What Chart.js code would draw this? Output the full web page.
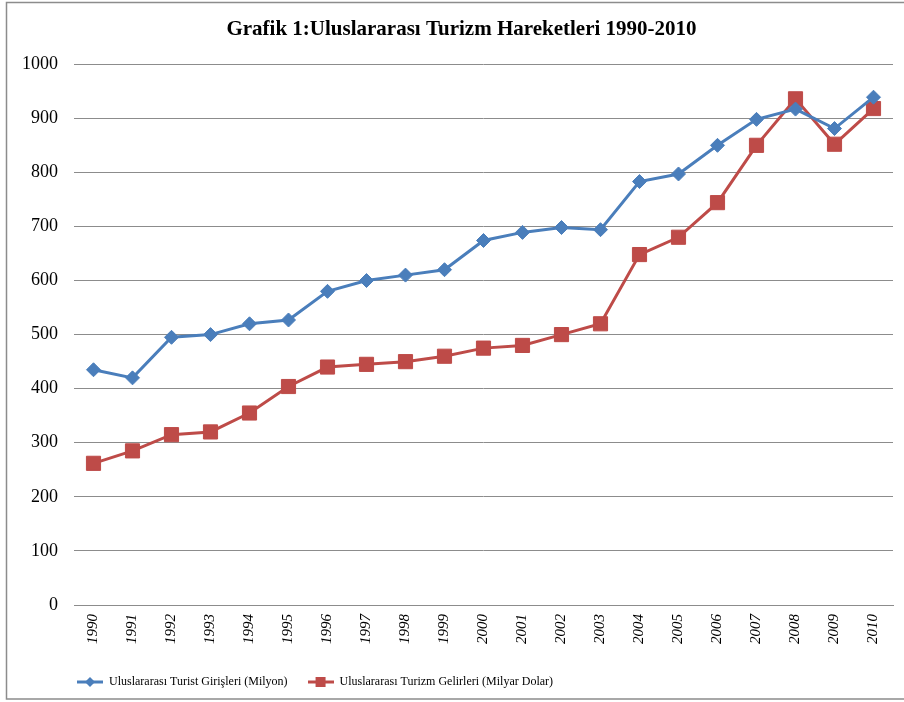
<!DOCTYPE html>
<html>
<head>
<meta charset="utf-8">
<script src="https://cdn.jsdelivr.net/npm/chart.js@4/dist/chart.umd.min.js"></script>
<style>
  html, body { margin: 0; padding: 0; background: #ffffff; }
  #wrap { position: relative; width: 904px; height: 702px; }
</style>
</head>
<body>
<div id="wrap"><canvas id="c" width="904" height="702"></canvas></div>
<script>
const years = ['1990','1991','1992','1993','1994','1995','1996','1997','1998','1999','2000','2001','2002','2003','2004','2005','2006','2007','2008','2009','2010'];
const touristArrivals = [435, 420, 495, 500, 520, 527, 580, 600, 610, 620, 674, 689, 698, 694, 783, 797, 850, 898, 917, 881, 939];
const tourismReceipts = [262, 285, 315, 320, 355, 404, 440, 445, 450, 460, 475, 480, 500, 520, 648, 680, 744, 850, 936, 852, 918];
const yTicks = [0, 100, 200, 300, 400, 500, 600, 700, 800, 900, 1000];
const titleText = 'Grafik 1:Uluslararası Turizm Hareketleri 1990-2010';
const seriesNames = ['Uluslararası Turist Girişleri (Milyon)', 'Uluslararası Turizm Gelirleri (Milyar Dolar)'];

const BLUE = '#4A7EBB';
const RED = '#BE4B48';
const SERIF = '"Liberation Serif", "Times New Roman", serif';

function legendIcon(color, kind) {
  const cv = document.createElement('canvas');
  cv.width = 26; cv.height = 14;
  const g = cv.getContext('2d');
  g.strokeStyle = color; g.lineWidth = 3;
  g.beginPath(); g.moveTo(0, 7); g.lineTo(26, 7); g.stroke();
  g.fillStyle = color;
  g.beginPath();
  if (kind === 'diamond') {
    g.moveTo(13, 2); g.lineTo(18, 7); g.lineTo(13, 12); g.lineTo(8, 7); g.closePath();
  } else {
    g.rect(8, 2, 10, 10);
  }
  g.fill();
  return cv;
}

const frame = {
  id: 'frame',
  beforeDraw(chart) {
    if (chart.legend) { chart.legend.left = 57; }
    if (chart.titleBlock) { chart.titleBlock.left += 15; chart.titleBlock.right += 15; }
  },
  afterDraw(chart) {
    const ctx = chart.ctx;
    ctx.save();
    ctx.strokeStyle = '#8c8c8c';
    ctx.lineWidth = 1.5;
    ctx.beginPath();
    ctx.moveTo(910, 2.5); ctx.lineTo(6.5, 2.5); ctx.lineTo(6.5, 699); ctx.lineTo(910, 699);
    ctx.stroke();
    ctx.restore();
  }
};

new Chart(document.getElementById('c'), {
  type: 'line',
  data: {
    labels: years,
    datasets: [
      {
        label: seriesNames[0],
        data: touristArrivals,
        borderColor: BLUE,
        backgroundColor: BLUE,
        borderWidth: 3,
        pointStyle: 'rectRot',
        pointRadius: 7,
        pointBorderWidth: 1,
        pointBorderColor: BLUE,
        pointBackgroundColor: BLUE,
        tension: 0,
        legendIcon: legendIcon(BLUE, 'diamond')
      },
      {
        label: seriesNames[1],
        data: tourismReceipts,
        borderColor: RED,
        backgroundColor: RED,
        borderWidth: 3,
        pointStyle: 'rect',
        pointRadius: 10,
        pointBorderWidth: 1,
        pointBorderColor: RED,
        pointBackgroundColor: RED,
        tension: 0,
        legendIcon: legendIcon(RED, 'square')
      }
    ]
  },
  options: {
    responsive: false,
    animation: false,
    devicePixelRatio: 1,
    layout: { padding: { left: 0, right: 11, top: 0, bottom: 4 } },
    plugins: {
      title: {
        display: true,
        text: titleText,
        color: '#000000',
        font: { family: SERIF, size: 21, weight: 'bold' },
        padding: { top: 17, bottom: 22 }
      },
      legend: {
        display: true,
        position: 'bottom',
        align: 'start',
        labels: {
          color: '#000000',
          font: { family: SERIF, size: 12 },
          usePointStyle: true,
          pointStyleWidth: 26,
          padding: 20,
          generateLabels(chart) {
            return chart.data.datasets.map((ds, i) => ({
              text: ds.label,
              pointStyle: ds.legendIcon,
              fillStyle: ds.borderColor,
              strokeStyle: ds.borderColor,
              lineWidth: 0,
              fontColor: '#000000',
              hidden: false,
              datasetIndex: i
            }));
          }
        }
      },
      tooltip: { enabled: false }
    },
    scales: {
      x: {
        offset: true,
        grid: { display: false, drawTicks: false },
        border: { display: true, color: '#8c8c8c', width: 1 },
        ticks: {
          color: '#000000',
          font: { family: SERIF, size: 15, style: 'italic' },
          minRotation: 90,
          maxRotation: 90,
          padding: 9,
          autoSkip: false
        },
        afterFit(s) { s.height = 51; }
      },
      y: {
        min: 0,
        max: 1000,
        afterBuildTicks(s) { s.ticks = yTicks.map(v => ({ value: v })); },
        grid: { color: '#8c8c8c', lineWidth: 1, drawTicks: false },
        border: { display: false },
        ticks: {
          color: '#000000',
          font: { family: SERIF, size: 18 },
          padding: 16,
          callback: (v) => String(v)
        },
        afterFit(s) { s.width = 74; }
      }
    }
  },
  plugins: [frame]
});
</script>
</body>
</html>
